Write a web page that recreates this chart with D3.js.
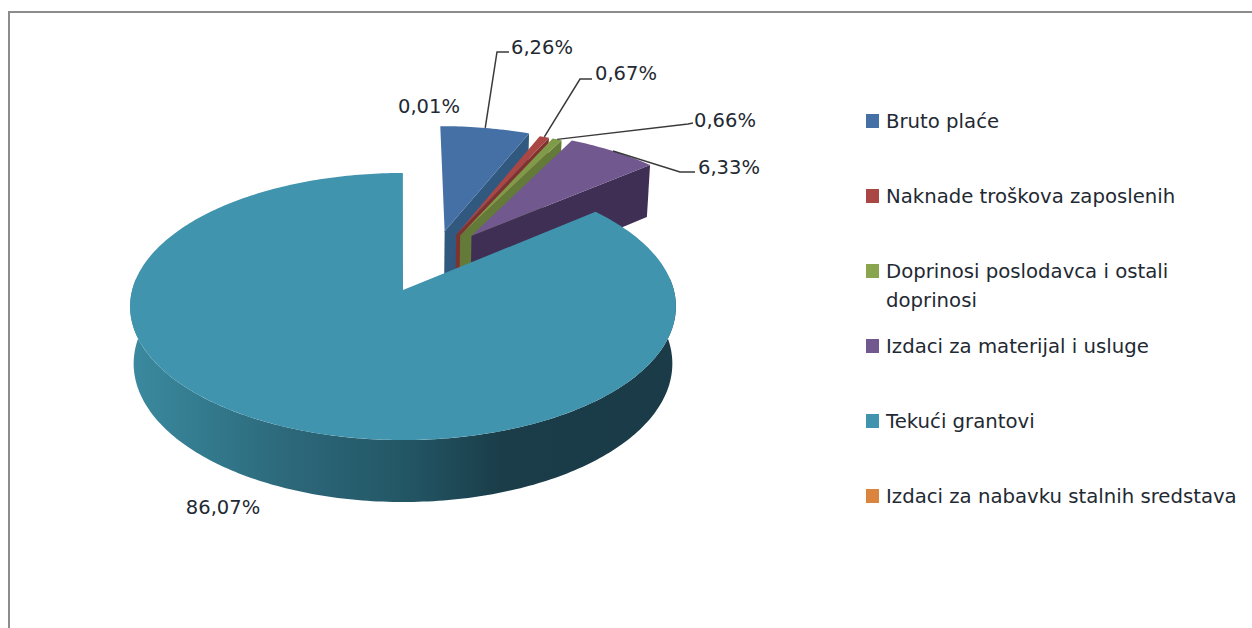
<!DOCTYPE html>
<html>
<head>
<meta charset="utf-8">
<script src="https://cdn.jsdelivr.net/npm/d3@7"></script>
<style>
  html, body { margin: 0; padding: 0; background: #fff; }
  svg { display: block; }
  text { font-family: "DejaVu Sans", sans-serif; fill: #1f2a33; }
</style>
</head>
<body>
<div id="chart"></div>
<script>
// Values
const categories = ["Bruto plaće", "Naknade troškova zaposlenih", "Doprinosi poslodavca i ostali doprinosi",
    "Izdaci za materijal i usluge", "Tekući grantovi", "Izdaci za nabavku stalnih sredstava"];
const shares = [6.26, 0.67, 0.66, 6.33, 86.07, 0.01];
const shareLabels = ["6,26%", "0,67%", "0,66%", "6,33%", "86,07%", "0,01%"];
const topColors = ["#4470a5", "#aa4644", "#7f9a48", "#71588f", "#4094ae", "#db843d"];
const sideColors = ["#31597f", "#7f3331", "#647a38", "#402f54", "#235a69", "#a5632e"];

const width = 1252, height = 628;
const cx = 403, cy = 290;           // where the pie centre lands on screen
const radiusX = 270.8, radiusY = 131.5, persp = 0.1236;
const depth = 56.5, depthPersp = 38.8;

// how far each slice is pulled out of the pie, and in which direction (degrees from 12 o'clock)
const explodeBy = [0.5, 0.49, 0.49, 0.51, 0, 0];
const explodeDir = [19, 25, 27, 31.5, 0, 0];

const svg = d3.select("#chart").append("svg")
    .attr("width", width)
    .attr("height", height);

// chart frame, only top and left are in the crop
svg.append("path")
    .attr("d", d3.line()([[9, height], [9, 12], [width, 12]]))
    .attr("fill", "none")
    .attr("stroke", "#8c8c8c")
    .attr("stroke-width", 2);

const slices = d3.pie().sort(null).value(d => d)(shares);

// disc coordinates -> screen, with a little perspective
function project(u, v, low) {
    const w = 1 / (1 - persp * v);
    const sx = low ? 0.987 : 1;
    return [cx + radiusX * u * w * sx, cy + radiusY * v * w + (low ? depth + depthPersp * (w - 1) : 0)];
}

function offsetOf(i) {
    const a = explodeDir[i] * Math.PI / 180;
    return [explodeBy[i] * Math.sin(a), -explodeBy[i] * Math.cos(a)];
}

function rimPoint(i, angle, low) {
    const o = offsetOf(i);
    return project(o[0] + Math.sin(angle), o[1] - Math.cos(angle), low);
}

function apex(i, low) {
    const o = offsetOf(i);
    return project(o[0], o[1], low);
}

function rim(i, a0, a1, low) {
    const n = Math.max(2, Math.ceil((a1 - a0) * 60));
    return d3.range(n + 1).map(k => rimPoint(i, a0 + (a1 - a0) * k / n, low));
}

const line = d3.line();
const defs = svg.append("defs");
const sideGrad = defs.append("linearGradient")
    .attr("id", "tealSide")
    .attr("gradientUnits", "userSpaceOnUse")
    .attr("x1", 130).attr("x2", 675).attr("y1", 0).attr("y2", 0);
[[0, "#3b8a9f"], [0.12, "#347c90"], [0.3, "#2c6779"], [0.5, "#235766"], [0.68, "#1a3d49"], [1, "#1a3b47"]]
    .forEach(s => sideGrad.append("stop").attr("offset", s[0]).attr("stop-color", s[1]));

const pieG = svg.append("g");

// exploded slices go first, the big slice sits in front of them
[5, 0, 1, 2, 3, 4].forEach(i => {
    const s = slices[i];
    const g = pieG.append("g").attr("class", "slice");
    if (i === 4) {
        // outer wall, only the front half shows
        const front = [Math.PI * 0.47, Math.PI * 1.53];
        const top = rim(i, front[0], front[1], false);
        const low = rim(i, front[0], front[1], true);
        g.append("path")
            .attr("d", line(top.concat(low.reverse())) + "Z")
            .attr("fill", "url(#tealSide)");
    } else {
        // cut wall on the clockwise side, the only wall we can see
        g.append("path")
            .attr("d", line([apex(i, false), rimPoint(i, s.endAngle, false), rimPoint(i, s.endAngle, true), apex(i, true)]) + "Z")
            .attr("fill", sideColors[i]);
    }
    g.append("path")
        .attr("d", line([apex(i, false)].concat(rim(i, s.startAngle, s.endAngle, false))) + "Z")
        .attr("fill", topColors[i]);
});

// data labels
const labelPos = [[542, 47], [626, 73], [725, 120], [729, 167], [223, 507], [429, 106]];
const labelElbow = [[[497, 52], [509, 52]], [[580, 79], [592, 79]], [[688, 124], [693, 123]], [[680, 172], [695, 172]]];

labelElbow.forEach((elbow, i) => {
    const mid = (slices[i].startAngle + slices[i].endAngle) / 2;
    svg.append("path")
        .attr("d", line([rimPoint(i, mid, false)].concat(elbow)))
        .attr("fill", "none")
        .attr("stroke", "#3a3a3a")
        .attr("stroke-width", 1.5);
});

svg.selectAll("text.value")
    .data(shareLabels)
    .enter()
    .append("text")
    .attr("class", "value")
    .attr("x", (d, i) => labelPos[i][0])
    .attr("y", (d, i) => labelPos[i][1])
    .attr("dy", "0.35em")
    .attr("text-anchor", "middle")
    .attr("font-size", 19.5)
    .text(d => d);

// legend
const legendY = d3.scalePoint().domain(categories).range([121, 496]);
const legend = svg.selectAll("g.legend")
    .data(categories)
    .enter()
    .append("g")
    .attr("class", "legend")
    .attr("transform", d => `translate(866,${legendY(d)})`);

legend.append("rect")
    .attr("x", 0).attr("y", -7)
    .attr("width", 13).attr("height", 14)
    .attr("fill", (d, i) => topColors[i] === "#7f9a48" ? "#89a54e" : topColors[i]);

legend.each(function(d) {
    const rows = d.startsWith("Doprinosi") ? ["Doprinosi poslodavca i ostali", "doprinosi"] : [d];
    d3.select(this).selectAll("text")
        .data(rows)
        .enter()
        .append("text")
        .attr("x", 20)
        .attr("y", (r, k) => k * 29)
        .attr("dy", "0.35em")
        .attr("font-size", 19.7)
        .text(r => r);
});
</script>
</body>
</html>
